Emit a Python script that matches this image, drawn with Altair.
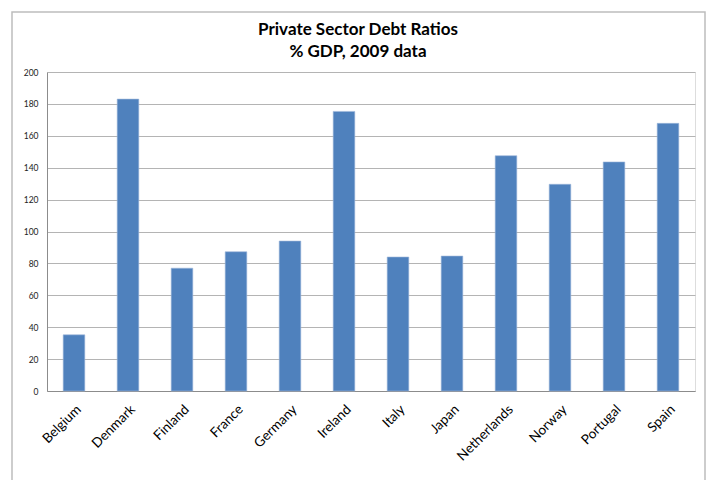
import altair as alt
import pandas as pd

countries = ["Belgium", "Denmark", "Finland", "France", "Germany", "Ireland",
             "Italy", "Japan", "Netherlands", "Norway", "Portugal", "Spain"]
debt_ratio = [35.2, 183.0, 77.0, 87.3, 94.0, 175.3, 84.0, 84.6, 147.5, 129.6, 143.6, 167.8]
title_lines = ["Private Sector Debt Ratios", "% GDP, 2009 data"]

df = pd.DataFrame({"country": countries, "value": debt_ratio})

FONT = "Lato"

bars = alt.Chart(df).mark_bar(color="#4F81BD", stroke="#9DB7DA", strokeWidth=0.6).encode(
    x=alt.X("country:N", sort=countries, title=None,
            scale=alt.Scale(paddingInner=0.6, paddingOuter=0.3),
            axis=alt.Axis(labelAngle=-45, labelFontSize=13.5, labelFont=FONT,
                          labelColor="#000000", labelPadding=11, ticks=False,
                          domainColor="#8C8C8C", domainWidth=1)),
    y=alt.Y("value:Q", title=None,
            scale=alt.Scale(domain=[0, 200]),
            axis=alt.Axis(values=list(range(0, 201, 20)), labelFontSize=8.5,
                          labelFont=FONT, labelColor="#222222", ticks=False,
                          labelPadding=9, gridColor="#B4B4B4", gridWidth=1,
                          domainColor="#8C8C8C", domainWidth=1)),
)

border = alt.Chart(pd.DataFrame({"a": [0]})).mark_rect(
    fill=None, stroke="#BDBDBD", strokeWidth=1.5
).encode(
    x=alt.value(-35), x2=alt.value(658), y=alt.value(-60), y2=alt.value(430)
)

title1 = alt.Chart(pd.DataFrame({"t": [title_lines[0]]})).mark_text(
    font=FONT, fontSize=17, fontWeight="bold", color="#000000",
    align="center", baseline="middle"
).encode(text="t:N", x=alt.value(311), y=alt.value(-42))

title2 = alt.Chart(pd.DataFrame({"t": [title_lines[1]]})).mark_text(
    font=FONT, fontSize=17, fontWeight="bold", color="#000000",
    align="center", baseline="middle"
).encode(text="t:N", x=alt.value(311), y=alt.value(-20))

chart = alt.layer(border, bars, title1, title2).properties(
    width=648,
    height=319,
    padding={"left": 47, "top": 72, "right": 17, "bottom": 89},
    autosize=alt.AutoSizeParams(type="none"),
).configure_view(stroke=None).configure(background="white")

chart.save("out.html", embed_options={"renderer": "svg", "actions": False})
